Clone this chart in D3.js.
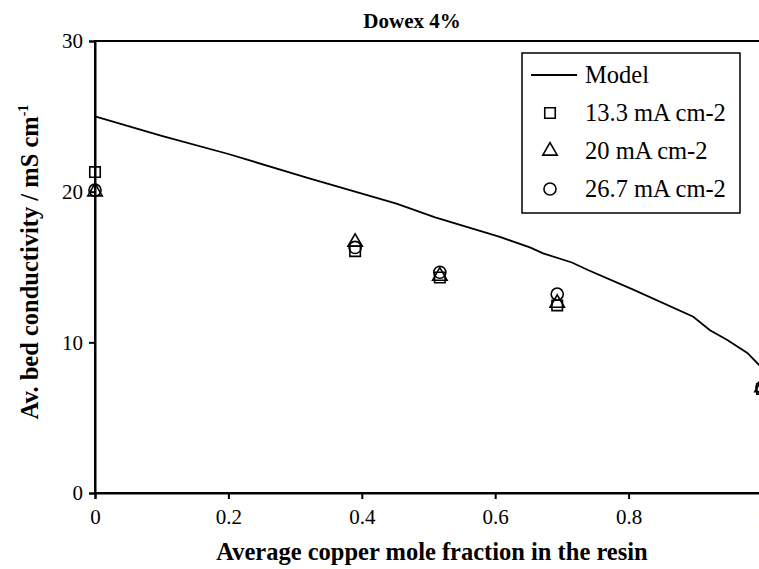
<!DOCTYPE html>
<meta charset="utf-8">
<style>
  body { margin: 0; background: #fff; }
  svg text { font-family: "Liberation Serif", "DejaVu Serif", serif; fill: #000; }
</style>
<body>
<script src="https://d3js.org/d3.v7.min.js"></script>
<script>
// model curve
var modelX = [0, 0.1, 0.2, 0.32, 0.452, 0.51, 0.607, 0.652, 0.672, 0.715, 0.739, 0.807, 0.897, 0.922, 0.948, 0.978, 1.0];
var modelY = [25.0, 23.7, 22.5, 20.9, 19.2, 18.3, 17.0, 16.3, 15.9, 15.3, 14.8, 13.5, 11.7, 10.8, 10.15, 9.3, 8.3];

// experimental points
var expX = [0, 0.39, 0.517, 0.693, 1.0];
var sq133 = [21.3, 16.05, 14.3, 12.45, 6.9];
var tri20 = [20.0, 16.65, 14.4, 12.6, 7.0];
var circ267 = [20.1, 16.3, 14.65, 13.2, 7.0];

var xTicks = [0, 0.2, 0.4, 0.6, 0.8, 1];
var yTicks = [0, 10, 20, 30];

var svg = d3.select("body").append("svg")
    .attr("width", 759)
    .attr("height", 569);

var pLeft = 95, pRight = 762, pTop = 41, pBottom = 493;

var x = d3.scaleLinear().domain([0, 1]).range([pLeft, pRight]);
var y = d3.scaleLinear().domain([0, 30]).range([pBottom, pTop]);

// plot frame
svg.append("rect")
    .attr("x", pLeft).attr("y", pTop)
    .attr("width", pRight - pLeft).attr("height", pBottom - pTop)
    .attr("fill", "none").attr("stroke", "#000").attr("stroke-width", 2);

// axes
var xAxis = svg.append("g")
    .attr("transform", "translate(0," + pBottom + ")")
    .call(d3.axisBottom(x).tickValues(xTicks).tickSize(6).tickPadding(10)
        .tickFormat(function(d) { return d === 0 || d === 1 ? d : d3.format(".1f")(d); }));
var yAxis = svg.append("g")
    .attr("transform", "translate(" + pLeft + ",0)")
    .call(d3.axisLeft(y).tickValues(yTicks).tickSize(6).tickPadding(6));

[xAxis, yAxis].forEach(function(a) {
    a.select(".domain").attr("stroke-width", 2);
    a.selectAll(".tick line").attr("stroke-width", 2);
    a.selectAll(".tick text").style("font-size", "21px")
        .style("font-family", "'Liberation Serif', serif");
});

// model line
var modelData = modelX.map(function(v, i) { return [v, modelY[i]]; });
svg.append("path")
    .datum(modelData)
    .attr("fill", "none")
    .attr("stroke", "#000")
    .attr("stroke-width", 1.8)
    .attr("d", d3.line().x(function(d) { return x(d[0]); }).y(function(d) { return y(d[1]); }));

// markers
function symSize(t) {
    return t === d3.symbolSquare ? 110 : (t === d3.symbolCircle ? 115 : 90);
}
function drawMarkers(vals, type) {
    svg.append("g").selectAll("path")
        .data(vals)
        .enter().append("path")
        .attr("transform", function(d, i) { return "translate(" + x(expX[i]) + "," + y(d) + ")"; })
        .attr("d", d3.symbol().type(type).size(symSize(type)))
        .attr("fill", "none")
        .attr("stroke", "#000")
        .attr("stroke-width", 1.6);
}
drawMarkers(sq133, d3.symbolSquare);
drawMarkers(tri20, d3.symbolTriangle);
drawMarkers(circ267, d3.symbolCircle);

// title
svg.append("text")
    .attr("x", 412).attr("y", 28)
    .attr("text-anchor", "middle")
    .style("font-size", "21px").style("font-weight", "bold")
    .text("Dowex 4%");

// axis titles
svg.append("text")
    .attr("x", 432).attr("y", 560)
    .attr("text-anchor", "middle")
    .style("font-size", "24.5px").style("font-weight", "bold")
    .text("Average copper mole fraction in the resin");

var yl = svg.append("text")
    .attr("transform", "translate(38,262) rotate(-90)")
    .attr("text-anchor", "middle")
    .style("font-size", "24.5px").style("font-weight", "bold");
yl.append("tspan").text("Av. bed conductivity / mS cm");
yl.append("tspan").attr("dy", -10).style("font-size", "14px").text("-1");

// legend
var lg = svg.append("g");
lg.append("rect")
    .attr("x", 522).attr("y", 53).attr("width", 218).attr("height", 160)
    .attr("fill", "#fff").attr("stroke", "#000").attr("stroke-width", 1.5);

var legendLabels = ["Model", "13.3 mA cm-2", "20 mA cm-2", "26.7 mA cm-2"];
var legendTypes = [null, d3.symbolSquare, d3.symbolTriangle, d3.symbolCircle];
var rowY = [75, 113, 151, 189];
legendLabels.forEach(function(lab, i) {
    if (legendTypes[i] === null) {
        lg.append("line").attr("x1", 531).attr("x2", 577)
            .attr("y1", rowY[i]).attr("y2", rowY[i])
            .attr("stroke", "#000").attr("stroke-width", 1.8);
    } else {
        lg.append("path")
            .attr("transform", "translate(550," + rowY[i] + ")")
            .attr("d", d3.symbol().type(legendTypes[i]).size(symSize(legendTypes[i])))
            .attr("fill", "none").attr("stroke", "#000").attr("stroke-width", 1.6);
    }
    lg.append("text")
        .attr("x", 585).attr("y", rowY[i] + 8)
        .style("font-size", "24.5px")
        .text(lab);
});
</script>
</body>
